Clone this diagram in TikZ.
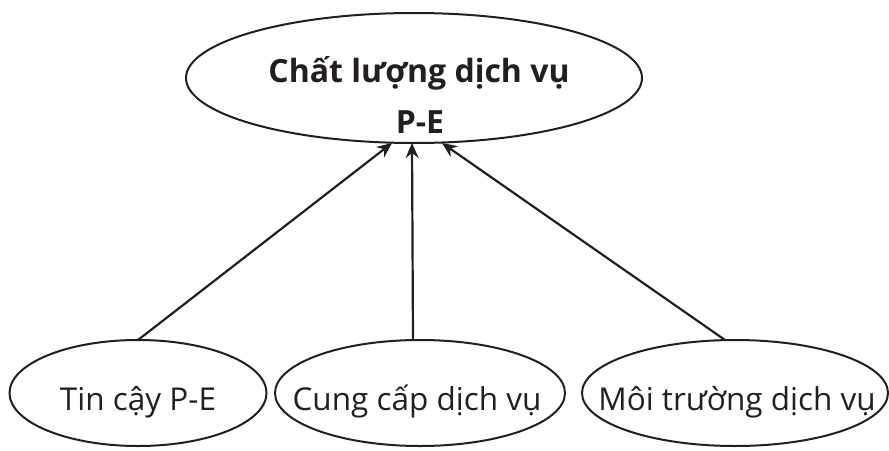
\documentclass[tikz,border=0pt]{standalone}
\usepackage{fontspec}
\setmainfont{Open Sans}
\usetikzlibrary{shapes.geometric,arrows.meta}
\definecolor{ink}{HTML}{231F20}
\begin{document}
\begin{tikzpicture}[x=1pt,y=-1pt,
  oval/.style={draw=ink,line width=2pt,ellipse,inner sep=0pt},
  lbl/.style={anchor=base,inner sep=0pt,text=ink,font=\fontsize{31.5}{38}\selectfont},
  toplbl/.style={lbl,font=\fontsize{32}{38}\selectfont\bfseries},
  link/.style={draw=ink,line width=2.2pt,-{Stealth[length=15pt,width=13pt,inset=5pt]}}]
  \useasboundingbox (0,0) rectangle (889,450);
  % outcome
  \node[oval,minimum width=456pt,minimum height=130pt] (q) at (414,78) {};
  \node[toplbl] (qa) at (419,82) {Chất lượng dịch vụ};
  \node[toplbl] (qb) at (420,133) {P-E};
  % factors
  \node[oval,minimum width=257pt,minimum height=106pt] (f1) at (138,393) {};
  \node[oval,minimum width=290pt,minimum height=106pt] (f2) at (420,393) {};
  \node[oval,minimum width=306pt,minimum height=106pt] (f3) at (735,393) {};
  \node[lbl] (t1) at (138,410) {Tin cậy P-E};
  \node[lbl] (t2) at (417,410) {Cung cấp dịch vụ};
  \node[lbl] (t3) at (737,410) {Môi trường dịch vụ};
  % arrow ends under the outcome oval
  \coordinate (e1) at (392,143);
  \coordinate (e2) at (412,143);
  \coordinate (e3) at (442,143);
  \coordinate (s1) at (138,340);
  \coordinate (s2) at (413,340);
  \coordinate (s3) at (725,340);
  \draw[link] (s1) -- (e1);
  \draw[link] (s2) -- (e2);
  \draw[link] (s3) -- (e3);
\end{tikzpicture}
\end{document}
